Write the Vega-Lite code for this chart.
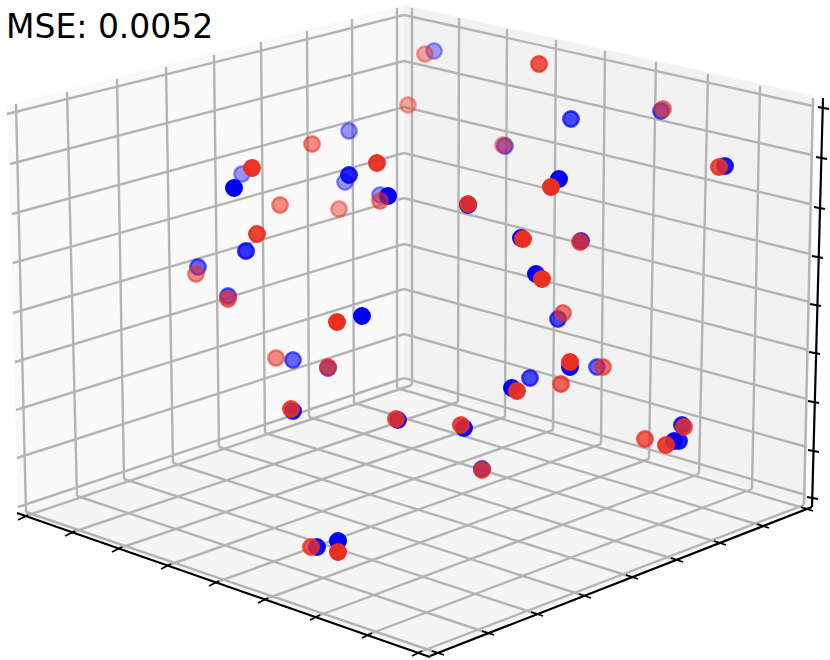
{"$schema":"https://vega.github.io/schema/vega-lite/v6.json","width":830,"height":660,"padding":0,"autosize":{"type":"fit","contains":"padding"},"background":"white","config":{"view":{"stroke":null}},
"datasets":{
"left":[{"x":7,"y":105,"y2":105},{"x":18,"y":102,"y2":512},{"x":404,"y":5,"y2":385}],
"right":[{"x":404,"y":5,"y2":385},{"x":806,"y":94,"y2":505},{"x":815,"y":96,"y2":96}],
"floor":[{"x":18,"y":512,"y2":512},{"x":404,"y":383,"y2":646},{"x":430,"y":391,"y2":655},{"x":806,"y":505,"y2":505}],
"grid":[
{"x":16,"y":104,"x2":26,"y2":512},{"x":67,"y":92,"x2":77,"y2":496},{"x":117,"y":79,"x2":124,"y2":479},{"x":166,"y":67,"x2":173,"y2":463},{"x":214,"y":55,"x2":219,"y2":447},{"x":261,"y":42,"x2":265,"y2":433},{"x":307,"y":31,"x2":309,"y2":417},{"x":352,"y":19,"x2":354,"y2":403},{"x":397,"y":8,"x2":397,"y2":388},
{"x":412,"y":8,"x2":412,"y2":385},{"x":459,"y":18,"x2":458,"y2":402},{"x":507,"y":29,"x2":505,"y2":417},{"x":556,"y":40,"x2":553,"y2":430},{"x":605,"y":51,"x2":601,"y2":444},{"x":656,"y":62,"x2":649,"y2":459},{"x":708,"y":74,"x2":699,"y2":474},{"x":760,"y":86,"x2":752,"y2":489},{"x":813,"y":98,"x2":804,"y2":505},
{"x":7,"y":114,"x2":404,"y2":15},{"x":10,"y":164,"x2":404,"y2":61},{"x":12,"y":214,"x2":404,"y2":107},{"x":13,"y":263,"x2":404,"y2":153},{"x":13,"y":313,"x2":404,"y2":198},{"x":15,"y":362,"x2":404,"y2":244},{"x":16,"y":410,"x2":404,"y2":289},{"x":17,"y":458,"x2":404,"y2":334},{"x":18,"y":507,"x2":404,"y2":378},
{"x":404,"y":15,"x2":813,"y2":106},{"x":404,"y":61,"x2":812,"y2":155},{"x":404,"y":107,"x2":810,"y2":204},{"x":404,"y":153,"x2":810,"y2":254},{"x":404,"y":198,"x2":810,"y2":302},{"x":404,"y":244,"x2":808,"y2":350},{"x":404,"y":289,"x2":807,"y2":399},{"x":404,"y":334,"x2":807,"y2":447},{"x":404,"y":378,"x2":806,"y2":495},
{"x":26,"y":512,"x2":438,"y2":653},{"x":77,"y":496,"x2":488,"y2":633},{"x":124,"y":479,"x2":537,"y2":614},{"x":173,"y":463,"x2":585,"y2":596},{"x":219,"y":447,"x2":632,"y2":577},{"x":265,"y":433,"x2":677,"y2":560},{"x":309,"y":417,"x2":720,"y2":543},{"x":354,"y":403,"x2":763,"y2":526},{"x":397,"y":388,"x2":807,"y2":509},
{"x":412,"y":385,"x2":23,"y2":517},{"x":458,"y":402,"x2":70,"y2":533},{"x":505,"y":417,"x2":117,"y2":549},{"x":553,"y":430,"x2":166,"y2":566},{"x":601,"y":444,"x2":214,"y2":583},{"x":649,"y":459,"x2":263,"y2":600},{"x":699,"y":474,"x2":315,"y2":617},{"x":752,"y":489,"x2":367,"y2":635},{"x":804,"y":505,"x2":417,"y2":653}
],
"axes":[{"x":17,"y":513,"x2":430,"y2":657},{"x":430,"y":656,"x2":812,"y2":507},{"x":812,"y":507,"x2":823,"y2":98}],
"ticks":[
{"x":18,"y":520,"x2":28,"y2":515},{"x":65,"y":536,"x2":75,"y2":531},{"x":112,"y":552,"x2":122,"y2":547},{"x":161,"y":569,"x2":171,"y2":564},{"x":209,"y":586,"x2":219,"y2":581},{"x":258,"y":603,"x2":268,"y2":598},{"x":310,"y":620,"x2":320,"y2":615},{"x":362,"y":638,"x2":372,"y2":633},{"x":412,"y":656,"x2":422,"y2":651},
{"x":432,"y":651,"x2":444,"y2":655},{"x":482,"y":631,"x2":494,"y2":635},{"x":531,"y":612,"x2":543,"y2":616},{"x":579,"y":594,"x2":591,"y2":598},{"x":626,"y":575,"x2":638,"y2":579},{"x":671,"y":558,"x2":683,"y2":562},{"x":714,"y":541,"x2":726,"y2":545},{"x":757,"y":524,"x2":769,"y2":528},{"x":801,"y":507,"x2":813,"y2":511},
{"x":818,"y":107,"x2":829,"y2":109},{"x":816,"y":157,"x2":827,"y2":159},{"x":814,"y":207,"x2":825,"y2":209},{"x":812,"y":256,"x2":823,"y2":258},{"x":810,"y":304,"x2":821,"y2":306},{"x":809,"y":352,"x2":820,"y2":354},{"x":808,"y":401,"x2":819,"y2":403},{"x":808,"y":450,"x2":819,"y2":452},{"x":807,"y":497,"x2":818,"y2":499}
],
"blue":[
{"x":349,"y":131,"a":0.4},{"x":242,"y":174,"a":0.4},{"x":234,"y":188,"a":1},{"x":345,"y":182,"a":0.4},{"x":349,"y":175,"a":0.85},{"x":380,"y":195,"a":0.4},{"x":388,"y":196,"a":1},{"x":246,"y":251,"a":0.8},{"x":198,"y":267,"a":0.6},{"x":228,"y":296,"a":0.6},{"x":362,"y":316,"a":1},
{"x":434,"y":51,"a":0.35},{"x":571,"y":119,"a":0.7},{"x":661,"y":111,"a":0.6},{"x":505,"y":146,"a":0.5},{"x":725,"y":166,"a":0.9},{"x":559,"y":179,"a":1},{"x":468,"y":205,"a":0.95},{"x":521,"y":238,"a":1},{"x":581,"y":241,"a":0.8},{"x":536,"y":274,"a":1},{"x":558,"y":319,"a":0.7},
{"x":293,"y":360,"a":0.6},{"x":328,"y":368,"a":0.65},{"x":293,"y":411,"a":0.9},{"x":398,"y":420,"a":0.85},{"x":317,"y":547,"a":0.95},{"x":338,"y":541,"a":1},
{"x":530,"y":378,"a":0.7},{"x":512,"y":388,"a":1},{"x":570,"y":367,"a":1},{"x":597,"y":367,"a":0.6},{"x":682,"y":425,"a":0.8},{"x":674,"y":441,"a":0.95},{"x":679,"y":441,"a":0.85},{"x":464,"y":428,"a":0.95},{"x":482,"y":469,"a":0.75}],
"red":[
{"x":408,"y":105,"a":0.4},{"x":312,"y":144,"a":0.55},{"x":252,"y":168,"a":0.97},{"x":377,"y":163,"a":0.95},{"x":280,"y":205,"a":0.55},{"x":339,"y":209,"a":0.45},{"x":380,"y":201,"a":0.55},{"x":257,"y":234,"a":0.9},{"x":196,"y":274,"a":0.55},{"x":228,"y":299,"a":0.65},{"x":337,"y":322,"a":1},
{"x":425,"y":54,"a":0.4},{"x":539,"y":64,"a":0.8},{"x":663,"y":109,"a":0.6},{"x":503,"y":145,"a":0.45},{"x":719,"y":167,"a":0.85},{"x":551,"y":187,"a":1},{"x":468,"y":204,"a":0.9},{"x":523,"y":239,"a":1},{"x":580,"y":242,"a":0.75},{"x":542,"y":279,"a":1},{"x":563,"y":313,"a":0.65},
{"x":276,"y":358,"a":0.55},{"x":328,"y":367,"a":0.7},{"x":291,"y":409,"a":0.85},{"x":396,"y":419,"a":0.85},{"x":311,"y":547,"a":0.8},{"x":338,"y":552,"a":1},
{"x":561,"y":384,"a":0.75},{"x":517,"y":391,"a":0.95},{"x":570,"y":362,"a":1},{"x":603,"y":367,"a":0.65},{"x":684,"y":427,"a":0.8},{"x":645,"y":439,"a":0.75},{"x":666,"y":445,"a":0.9},{"x":461,"y":425,"a":0.85},{"x":482,"y":470,"a":0.75}],
"title":[{"x":6,"y":38,"t":"MSE: 0.0052"}]
},
"encoding":{"x":{"field":"x","type":"quantitative","scale":{"domain":[0,830],"nice":false,"zero":false},"axis":null},"y":{"field":"y","type":"quantitative","scale":{"domain":[660,0],"nice":false,"zero":false},"axis":null}},
"layer":[
{"data":{"name":"left"},"mark":{"type":"area","color":"#f9f9f9","opacity":1},"encoding":{"y2":{"field":"y2"}}},
{"data":{"name":"right"},"mark":{"type":"area","color":"#f2f2f2","opacity":1},"encoding":{"y2":{"field":"y2"}}},
{"data":{"name":"floor"},"mark":{"type":"area","color":"#f5f5f5","opacity":1},"encoding":{"y2":{"field":"y2"}}},
{"data":{"name":"grid"},"mark":{"type":"rule","color":"#b4b4b4","strokeWidth":2.4},"encoding":{"x2":{"field":"x2"},"y2":{"field":"y2"}}},
{"data":{"name":"axes"},"mark":{"type":"rule","color":"#000000","strokeWidth":2.2},"encoding":{"x2":{"field":"x2"},"y2":{"field":"y2"}}},
{"data":{"name":"ticks"},"mark":{"type":"rule","color":"#000000","strokeWidth":1.8},"encoding":{"x2":{"field":"x2"},"y2":{"field":"y2"}}},
{"data":{"name":"blue"},"mark":{"type":"point","shape":"circle","filled":true,"opacity":1,"fill":"#0000ff","stroke":"#0000ff","strokeWidth":2.5,"size":240},"encoding":{"fillOpacity":{"field":"a","type":"quantitative","scale":null,"legend":null},"strokeOpacity":{"field":"a","type":"quantitative","scale":null,"legend":null}}},
{"data":{"name":"red"},"mark":{"type":"point","shape":"circle","filled":true,"opacity":1,"fill":"#ea2f20","stroke":"#ea2f20","strokeWidth":2.5,"size":240},"encoding":{"fillOpacity":{"field":"a","type":"quantitative","scale":null,"legend":null},"strokeOpacity":{"field":"a","type":"quantitative","scale":null,"legend":null}}},
{"data":{"name":"title"},"mark":{"type":"text","align":"left","baseline":"alphabetic","font":"DejaVu Sans","fontSize":33,"color":"#000000"},"encoding":{"text":{"field":"t"}}}
]}
